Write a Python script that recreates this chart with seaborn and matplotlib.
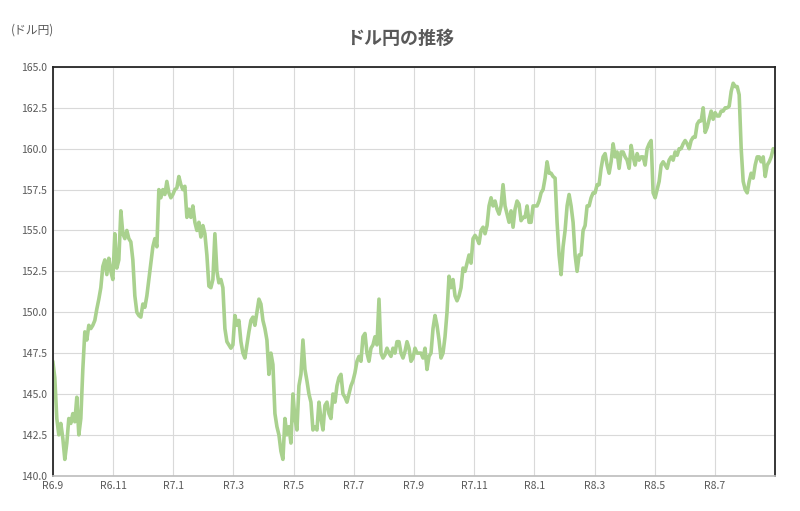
import numpy as np
import pandas as pd
import seaborn as sns
import matplotlib
matplotlib.use("Agg")
import matplotlib.pyplot as plt
from matplotlib.ticker import FormatStrFormatter

values = [147.0,146,143.5,142.5,143.2,142.3,141,142,143.5,143.2,143.8,143.3,144.8,142.5,143.5,146.5,148.8,148.3,149.2,149,149.2,149.5,150.2,150.8,151.5,152.8,153.2,152.3,153.3,152.5,152.0,154.8,152.7,153.2,156.2,154.8,154.5,155,154.5,154.3,153.2,151,150,149.8,149.7,150.5,150.3,151,152,153,154,154.5,154,157.5,157,157.5,157.2,158,157.3,157,157.2,157.5,157.6,158.3,157.8,157.5,157.7,155.8,156.3,155.8,156.5,155.5,155,155.5,154.6,155.3,154.8,153.5,151.6,151.5,152,154.8,152.5,151.8,152,151.5,149,148.2,148,147.8,148,149.8,149.2,149.5,148.2,147.5,147.2,148,148.8,149.5,149.7,149.2,150,150.8,150.5,149.5,149,148.3,146.2,147.5,146.8,143.8,143,142.5,141.5,141,143.5,142.5,143,142,145,143.5,142.8,145.5,146.2,148.3,146.5,145.8,145,144.5,142.8,143,142.8,144.5,143.5,142.8,144.3,144.5,143.8,143.5,145,144.5,145.5,146,146.2,145,144.8,144.5,145,145.5,145.8,146.3,147,147.3,147,148.5,148.7,147.5,147,147.8,148,148.5,148,150.8,147.5,147.2,147.4,147.8,147.5,147.3,147.8,147.5,148.2,148.2,147.5,147.2,147.6,148.2,147.8,147,147.2,147.8,147.5,147.5,147.5,147.2,147.8,146.5,147.3,147.5,149,149.8,149.2,148.3,147.2,147.5,148.5,150,152.2,151.5,152,151,150.7,151,151.5,152.7,152.5,153,153.5,153,154.5,154.7,154.5,154.2,155,155.2,154.8,155.3,156.5,157,156.5,156.8,156.3,156,156.5,157.8,156.5,156,155.5,156.2,155.2,156.3,156.8,156.6,155.6,155.8,155.8,156.5,155.5,155.5,156.5,156.5,156.5,156.8,157.3,157.5,158.2,159.2,158.5,158.5,158.3,158.2,155.5,153.5,152.3,154,155,156.5,157.2,156.5,155.5,153.5,152.5,153.5,153.5,155,155.3,156.5,156.5,157,157.3,157.3,157.8,157.8,158.8,159.5,159.7,159,158.5,159.2,160.3,159.5,159.8,158.8,159.8,159.8,159.5,159.3,158.8,160.2,159.5,159,159.7,159.3,159.5,159.5,159,160,160.3,160.5,157.3,157,157.5,158,159,159.2,159,158.8,159.3,159.5,159.3,159.8,159.6,160,160,160.3,160.5,160.3,160,160.5,160.7,160.7,161.5,161.7,161.7,162.5,161,161.3,161.8,162.3,161.8,162.2,162,162,162.3,162.3,162.5,162.5,162.6,163.5,164,163.8,163.8,163.3,160,158,157.5,157.3,158,158.5,158.2,159,159.5,159.5,159.2,159.5,158.3,159,159.2,159.5,160,159.8]
tick_labels = ["R6.9","R6.11","R7.1","R7.3","R7.5","R7.7","R7.9","R7.11","R8.1","R8.3","R8.5","R8.7"]
n_months = 24

sns.set_theme(style="whitegrid")
plt.rcParams['font.family'] = ['Noto Sans CJK JP', 'DejaVu Sans']

df = pd.DataFrame({"x": np.linspace(0, n_months, len(values)), "y": values})
fig, ax = plt.subplots(figsize=(8, 5.11), dpi=100)
fig.subplots_adjust(left=0.066, right=0.969, top=0.869, bottom=0.069)
sns.lineplot(data=df, x="x", y="y", ax=ax, color="#A9D18E", linewidth=2.6)
ax.set_xlim(0, n_months)
ax.set_ylim(140, 165)
ax.set_yticks(np.arange(140, 165.01, 2.5))
ax.yaxis.set_major_formatter(FormatStrFormatter('%.1f'))
ax.set_xticks(np.arange(0, 2 * len(tick_labels), 2))
ax.set_xticklabels(tick_labels)
ax.tick_params(labelsize=7.5, colors="#595959", length=0, pad=4)
ax.set_xlabel(""); ax.set_ylabel("")
ax.grid(True, color="#D9D9D9", linewidth=0.8)
for s in ["left", "right", "top"]:
    ax.spines[s].set_color("#262626"); ax.spines[s].set_linewidth(1.3)
ax.spines["bottom"].set_color("#BFBFBF")
fig.text(0.5, 0.915, "ドル円の推移", ha="center", fontsize=13, fontweight="bold", color="#595959")
fig.text(0.014, 0.935, "(ドル円)", ha="left", fontsize=8.5, color="#595959")
fig.savefig("out.png", dpi=100, facecolor="white")
